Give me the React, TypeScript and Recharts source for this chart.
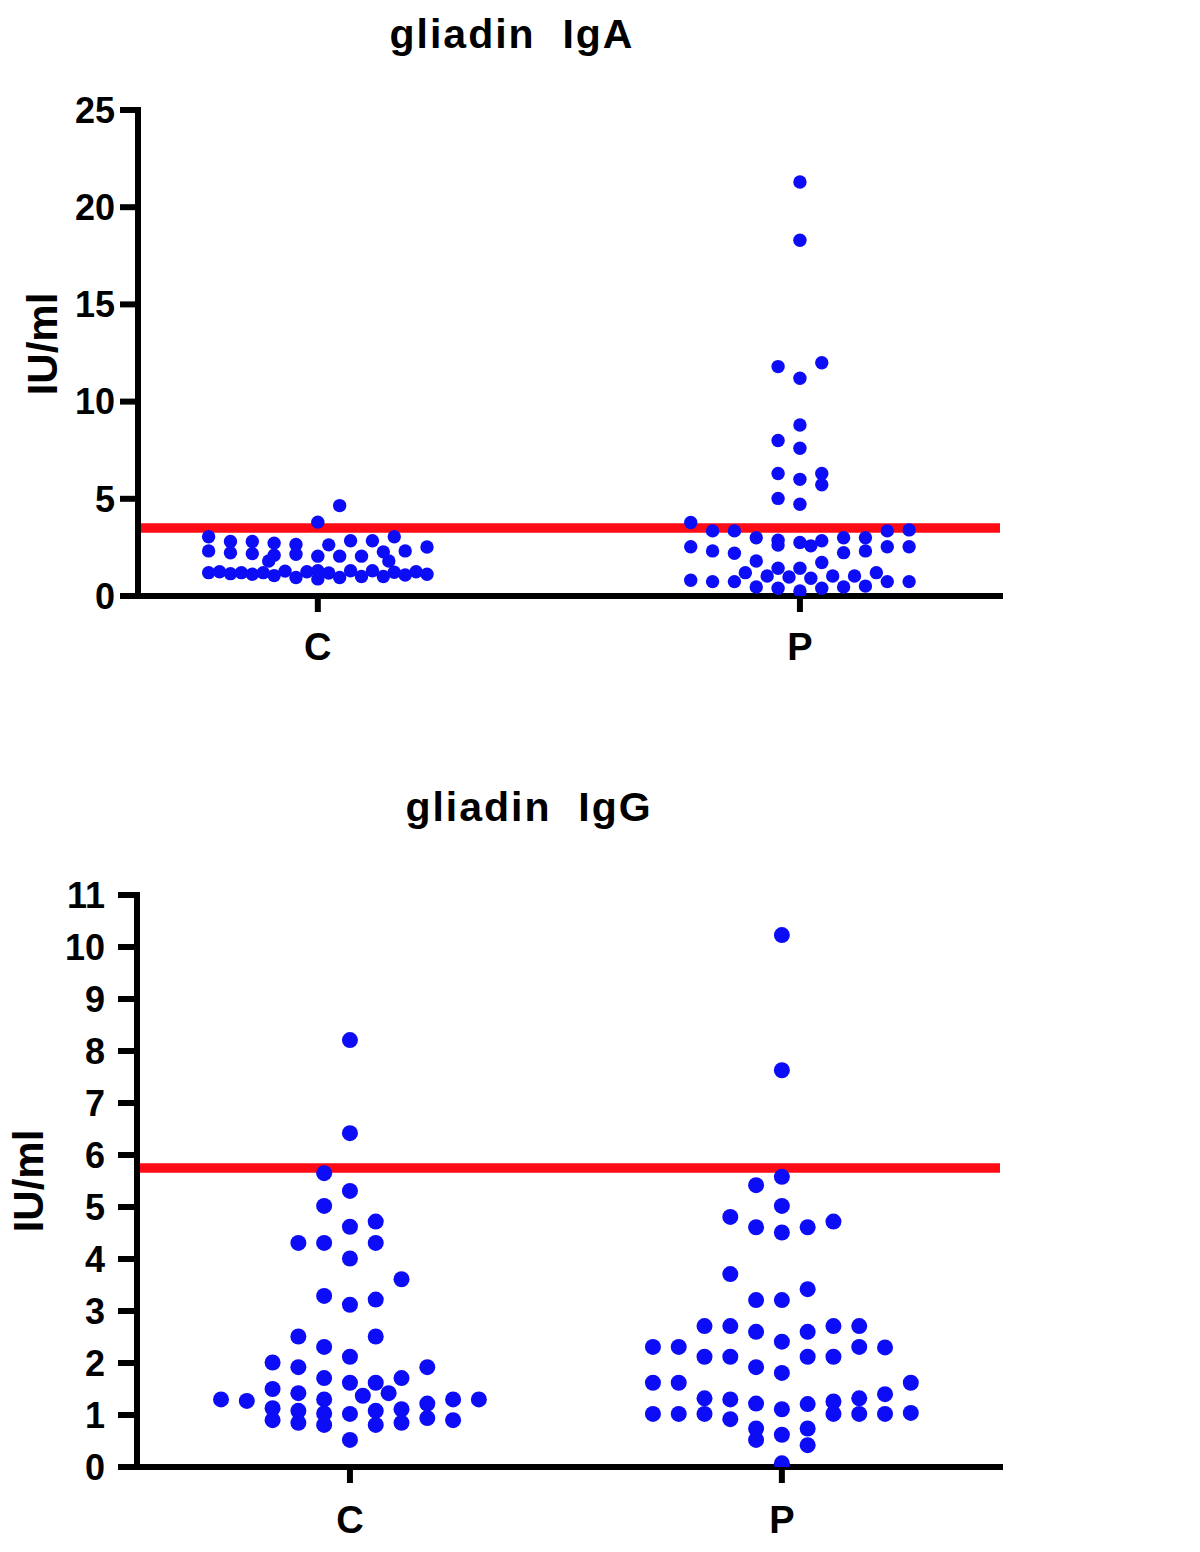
import React from 'react';
import { ScatterChart, Scatter, XAxis, YAxis, ReferenceLine } from 'recharts';

const groups = ['C', 'P'];

// [spread, IU/ml] – spread = place in the swarm, counted in dot steps from the column centre
const igaControls: [number, number][] = [
  [2, 4.65], [0, 3.8],
  [-10, 3.05], [7, 3.05],
  [-8, 2.8], [-6, 2.8], [-4, 2.72], [-2, 2.65], [1, 2.63], [3, 2.84], [5, 2.84],
  [-10, 2.32], [-8, 2.22], [-6, 2.18], [-4, 2.1], [-2, 2.15], [0, 2.05], [2, 2.05], [4, 2.05], [6, 2.27], [8, 2.32], [10, 2.52],
  [-4.5, 1.8], [6.5, 1.8],
  [-10, 1.2], [-9, 1.25], [-8, 1.15], [-7, 1.2], [-6, 1.12], [-5, 1.2], [-4, 1.05], [-3, 1.28], [-2, 0.95], [-1, 1.25],
  [0, 0.88], [0, 1.3], [1, 1.18], [2, 0.95], [3, 1.3], [4, 1.0], [5, 1.3], [6, 1.0], [7, 1.22], [8, 1.08], [9, 1.25], [10, 1.12],
];

const igaPatients: [number, number][] = [
  [0, 21.3], [0, 18.3], [2, 12.0], [-2, 11.8], [0, 11.2], [0, 8.8], [-2, 8.0], [0, 7.6],
  [-2, 6.3], [2, 6.3], [0, 6.0], [2, 5.72], [-2, 5.02], [0, 4.72],
  [-10, 3.78], [-8, 3.35], [-6, 3.35], [8, 3.35], [10, 3.4],
  [-4, 3.0], [-2, 2.87], [-2, 2.62], [0, 2.75], [1, 2.58], [2, 2.84], [4, 3.0], [6, 3.0],
  [-10, 2.53], [-8, 2.32], [-6, 2.2], [4, 2.23], [6, 2.32], [8, 2.53], [10, 2.53],
  [-4, 1.8], [2, 1.72],
  [-5, 1.2], [-2, 1.43], [0, 1.43], [-3, 1.03], [-1, 0.98], [1, 0.91], [3, 1.03], [5, 1.03], [7, 1.2],
  [-10, 0.81], [-8, 0.74], [-6, 0.74], [8, 0.74], [10, 0.74],
  [-4, 0.46], [-2, 0.4], [0, 0.26], [2, 0.4], [4, 0.46], [6, 0.51],
];

const igaCutoff = 3.5;
const igaTicks = [0, 5, 10, 15, 20, 25];

const iggControls: [number, number][] = [
  [0, 8.21], [0, 6.42], [-1, 5.65], [0, 5.31], [-1, 5.02], [0, 4.62], [1, 4.72],
  [-2, 4.31], [-1, 4.31], [1, 4.31], [0, 4.01], [2, 3.61], [-1, 3.29], [0, 3.12], [1, 3.22],
  [-2, 2.51], [1, 2.51], [-1, 2.31], [0, 2.12], [-3, 2.01], [-2, 1.92], [3, 1.92],
  [-1, 1.71], [0, 1.62], [1, 1.62], [2, 1.71], [-3, 1.5], [-2, 1.42], [0.5, 1.37], [1.5, 1.42],
  [-5, 1.3], [-4, 1.27], [-1, 1.3], [4, 1.3], [5, 1.3], [3, 1.22],
  [-3, 1.13], [-2, 1.08], [-1, 1.03], [0, 1.02], [1, 1.08], [2, 1.11],
  [-3, 0.9], [-2, 0.85], [-1, 0.81], [1, 0.81], [2, 0.85], [3, 0.94], [4, 0.9], [0, 0.52],
];

const iggPatients: [number, number][] = [
  [0, 10.23], [0, 7.63], [0, 5.58], [-1, 5.42], [0, 5.02], [-2, 4.81], [-1, 4.61], [0, 4.51], [1, 4.61], [2, 4.72],
  [-2, 3.71], [-1, 3.21], [0, 3.21], [1, 3.42],
  [-3, 2.71], [-2, 2.71], [-1, 2.6], [0, 2.41], [1, 2.6], [2, 2.71], [3, 2.71],
  [-5, 2.31], [-4, 2.31], [3, 2.31], [4, 2.3],
  [-3, 2.12], [-2, 2.12], [1, 2.12], [2, 2.12], [-1, 1.92], [0, 1.81],
  [-5, 1.62], [-4, 1.62], [5, 1.62], [4, 1.4],
  [-3, 1.32], [-2, 1.3], [2, 1.26], [3, 1.32], [-1, 1.22], [0, 1.11], [1, 1.21],
  [-5, 1.02], [-4, 1.02], [-3, 1.02], [2, 1.02], [3, 1.02], [4, 1.02], [5, 1.04],
  [-2, 0.92], [-1, 0.74], [1, 0.74], [-1, 0.52], [0, 0.62], [1, 0.42], [0, 0.07],
];

const iggCutoff = 5.75;
const iggTicks = [0, 1, 2, 3, 4, 5, 6, 7, 8, 9, 10, 11];

const FONT = '"Liberation Sans", Arial, Helvetica, sans-serif';
const BLUE = '#0c0cf6';
const RED = '#fe0b16';

const toPoints = (rows: [number, number][], group: number, step: number) =>
  rows.map(([spread, value]) => ({ x: group + 1 + spread * step, y: value }));

interface PanelProps {
  title: string;
  controls: [number, number][];
  patients: [number, number][];
  cutoff: number;
  ticks: number[];
  top: number;
  height: number;
  plotTop: number;
  plotBottom: number;
  axisWidth: number;
  xDomain: [number, number];
  step: number;
  r: number;
  titleTop: number;
  titleCenter: number;
  labelDx: number;
  labelDy: number;
  yTickSize: number;
  yTickMargin: number;
  xTickMargin: number;
}

const Panel: React.FC<PanelProps> = (p) => {
  const xAxisHeight = 70;
  const dot = (props: any) => <circle cx={props.cx} cy={props.cy} r={p.r} fill={BLUE} />;
  const axisStroke = { stroke: '#000', strokeWidth: 6, strokeLinecap: 'square' as const };

  return (
    <div style={{ position: 'absolute', left: 0, top: p.top, width: 1200, height: p.height }}>
      <div
        style={{
          position: 'absolute',
          top: p.titleTop,
          left: p.titleCenter - 300,
          width: 600,
          textAlign: 'center',
          fontFamily: FONT,
          fontWeight: 700,
          fontSize: 41,
          lineHeight: '41px',
          letterSpacing: 2,
          whiteSpace: 'pre',
          color: '#000',
        }}
      >
        {p.title}
      </div>
      <ScatterChart
        width={1200}
        height={p.height}
        margin={{ top: p.plotTop, right: 200, bottom: p.height - p.plotBottom - xAxisHeight, left: 0 }}
      >
        <XAxis
          type="number"
          dataKey="x"
          domain={p.xDomain}
          ticks={[1, 2]}
          interval={0}
          allowDataOverflow
          height={xAxisHeight}
          tickFormatter={(v) => groups[v - 1]}
          axisLine={axisStroke}
          tickLine={{ stroke: '#000', strokeWidth: 6 }}
          tickSize={16}
          tickMargin={p.xTickMargin}
          tick={{ fill: '#000', fontSize: 38, fontWeight: 700, fontFamily: FONT }}
        />
        <YAxis
          type="number"
          dataKey="y"
          domain={[0, p.ticks[p.ticks.length - 1]]}
          ticks={p.ticks}
          interval={0}
          allowDataOverflow
          width={p.axisWidth}
          axisLine={axisStroke}
          tickLine={{ stroke: '#000', strokeWidth: 6 }}
          tickSize={p.yTickSize}
          tickMargin={p.yTickMargin}
          tick={{ fill: '#000', fontSize: 36, fontWeight: 700, fontFamily: FONT }}
          label={{
            value: 'IU/ml',
            angle: -90,
            position: 'center',
            dx: p.labelDx,
            dy: p.labelDy,
            fill: '#000',
            fontSize: 42,
            fontWeight: 700,
            fontFamily: FONT,
          }}
        />
        <Scatter data={toPoints(p.controls, 0, p.step)} fill={BLUE} shape={dot} isAnimationActive={false} />
        <Scatter data={toPoints(p.patients, 1, p.step)} fill={BLUE} shape={dot} isAnimationActive={false} />
        <ReferenceLine y={p.cutoff} stroke={RED} strokeWidth={9.5} />
      </ScatterChart>
    </div>
  );
};

const App: React.FC = () => {
  return (
    <div style={{ position: 'absolute', left: 0, top: 0, width: 1200, height: 1552, background: '#fff' }}>
      <Panel
        title="gliadin  IgA"
        controls={igaControls}
        patients={igaPatients}
        cutoff={igaCutoff}
        ticks={igaTicks}
        top={0}
        height={700}
        plotTop={110}
        plotBottom={596}
        axisWidth={138}
        xDomain={[0.627, 2.415]}
        step={0.02265}
        r={6.7}
        titleTop={14}
        titleCenter={512}
        labelDx={-27}
        labelDy={-9}
        yTickSize={18}
        yTickMargin={5}
        xTickMargin={21}
      />
      <Panel
        title="gliadin  IgG"
        controls={iggControls}
        patients={iggPatients}
        cutoff={iggCutoff}
        ticks={iggTicks}
        top={760}
        height={800}
        plotTop={135}
        plotBottom={707}
        axisWidth={137}
        xDomain={[0.507, 2.505]}
        step={0.0597}
        r={8}
        titleTop={27}
        titleCenter={529}
        labelDx={-40}
        labelDy={0}
        yTickSize={19}
        yTickMargin={13}
        xTickMargin={23}
      />
    </div>
  );
};

export default App;
